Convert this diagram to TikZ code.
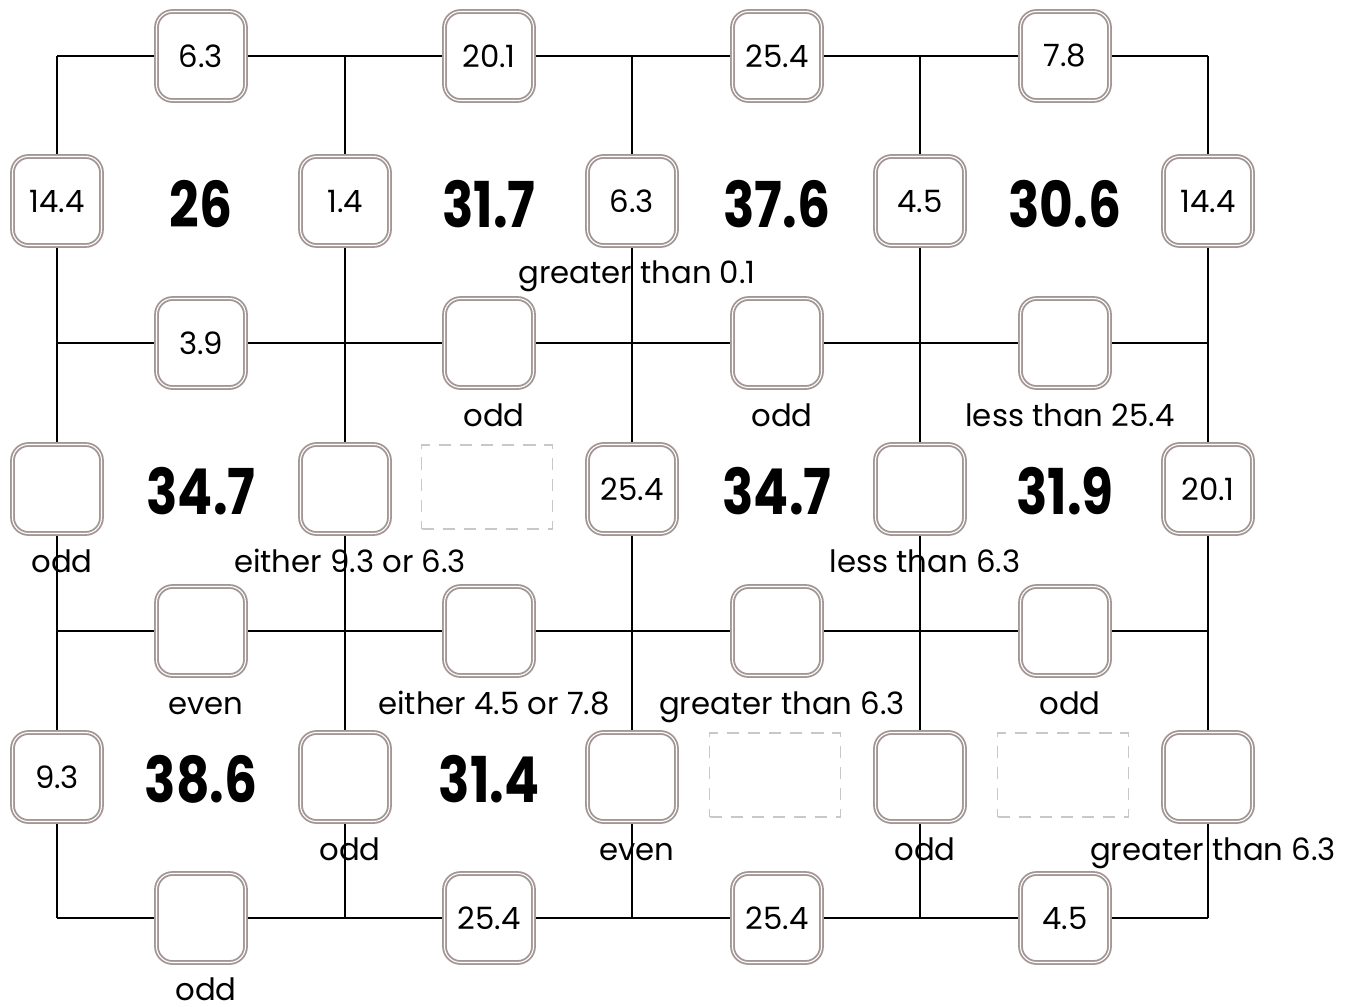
\documentclass[tikz,border=0pt]{standalone}
\usepackage{fontspec}
\setmainfont{Poppins}
\newfontfamily\sumfont[FakeStretch=0.82]{Poppins}
\usetikzlibrary{positioning}
\definecolor{boxgray}{HTML}{A39795}
\definecolor{dashgray}{HTML}{C8C8C8}

\begin{document}
\begin{tikzpicture}[
  x=0.02cm, y=-0.02cm,
  box/.style={draw=boxgray, double=white, line width=1.05pt, double distance=0.6pt,
    fill=white, rounded corners=0.32cm, minimum size=1.78cm, inner sep=0pt,
    font=\fontsize{17.5}{20}\selectfont},
  slot/.style={draw=dashgray, dash pattern=on 7pt off 5pt, line width=1.1pt,
    minimum width=2.62cm, minimum height=1.68cm, inner sep=0pt},
  total/.style={font=\sumfont\bfseries\fontsize{36}{40}\selectfont},
  hint/.style={anchor=base, xshift=0.1cm, font=\fontsize{17.5}{20}\selectfont},
  gridline/.style={line width=1.1pt},
]
  \useasboundingbox (0,0) rectangle (1353,1007);

  % grid corners
  \coordinate (j00) at (57,56);   \coordinate (j04) at (1208,56);
  \coordinate (j10) at (57,343);  \coordinate (j14) at (1208,343);
  \coordinate (j20) at (57,631);  \coordinate (j24) at (1208,631);
  \coordinate (j30) at (57,918);  \coordinate (j34) at (1208,918);
  \coordinate (j01) at (345,56);  \coordinate (j31) at (345,918);
  \coordinate (j02) at (632,56);  \coordinate (j32) at (632,918);
  \coordinate (j03) at (920,56);  \coordinate (j33) at (920,918);

  \draw[gridline] (j00) -- (j04);
  \draw[gridline] (j10) -- (j14);
  \draw[gridline] (j20) -- (j24);
  \draw[gridline] (j30) -- (j34);
  \draw[gridline] (j00) -- (j30);
  \draw[gridline] (j01) -- (j31);
  \draw[gridline] (j02) -- (j32);
  \draw[gridline] (j03) -- (j33);
  \draw[gridline] (j04) -- (j34);

  % horizontal edges
  \node[box] (h01) at (201,56) {6.3};
  \node[box] (h02) at (489,56) {20.1};
  \node[box] (h03) at (777,56) {25.4};
  \node[box] (h04) at (1065,56) {7.8};
  \node[box] (h11) at (201,343) {3.9};
  \node[box] (h12) at (489,343) {};
  \node[box] (h13) at (777,343) {};
  \node[box] (h14) at (1065,343) {};
  \node[box] (h21) at (201,631) {};
  \node[box] (h22) at (489,631) {};
  \node[box] (h23) at (777,631) {};
  \node[box] (h24) at (1065,631) {};
  \node[box] (h31) at (201,918) {};
  \node[box] (h32) at (489,918) {25.4};
  \node[box] (h33) at (777,918) {25.4};
  \node[box] (h34) at (1065,918) {4.5};

  % vertical edges
  \node[box] (v10) at (57,201) {14.4};
  \node[box] (v11) at (345,201) {1.4};
  \node[box] (v12) at (632,201) {6.3};
  \node[box] (v13) at (920,201) {4.5};
  \node[box] (v14) at (1208,201) {14.4};
  \node[box] (v20) at (57,489) {};
  \node[box] (v21) at (345,489) {};
  \node[box] (v22) at (632,489) {25.4};
  \node[box] (v23) at (920,489) {};
  \node[box] (v24) at (1208,489) {20.1};
  \node[box] (v30) at (57,777) {9.3};
  \node[box] (v31) at (345,777) {};
  \node[box] (v32) at (632,777) {};
  \node[box] (v33) at (920,777) {};
  \node[box] (v34) at (1208,777) {};

  % cell totals
  \node[total] (s11) at (201,204) {26};
  \node[total] (s12) at (489,204) {31.7};
  \node[total] (s13) at (777,204) {37.6};
  \node[total] (s14) at (1065,204) {30.6};
  \node[total] (s21) at (201,491) {34.7};
  \node[slot]  (q22) at (487,487) {};
  \node[total] (s23) at (777,491) {34.7};
  \node[total] (s24) at (1065,491) {31.9};
  \node[total] (s31) at (201,779) {38.6};
  \node[total] (s32) at (489,779) {31.4};
  \node[slot]  (q33) at (775,775) {};
  \node[slot]  (q34) at (1063,775) {};

  % hints
  \node[below=1.66cm of v12.center, hint] (t12) {greater than 0.1};
  \node[below=1.68cm of h12.center, hint] (u12) {odd};
  \node[below=1.68cm of h13.center, hint] (u13) {odd};
  \node[below=1.68cm of h14.center, hint] (u14) {less than 25.4};
  \node[below=1.68cm of v20.center, hint] (t20) {odd};
  \node[below=1.68cm of v21.center, hint] (t21) {either 9.3 or 6.3};
  \node[below=1.68cm of v23.center, hint] (t23) {less than 6.3};
  \node[below=1.68cm of h21.center, hint] (u21) {even};
  \node[below=1.68cm of h22.center, hint] (u22) {either 4.5 or 7.8};
  \node[below=1.68cm of h23.center, hint] (u23) {greater than 6.3};
  \node[below=1.68cm of h24.center, hint] (u24) {odd};
  \node[below=1.68cm of v31.center, hint] (t31) {odd};
  \node[below=1.68cm of v32.center, hint] (t32) {even};
  \node[below=1.68cm of v33.center, hint] (t33) {odd};
  \node[below=1.68cm of v34.center, hint] (t34) {greater than 6.3};
  \node[below=1.66cm of h31.center, hint] (u31) {odd};
\end{tikzpicture}
\end{document}
